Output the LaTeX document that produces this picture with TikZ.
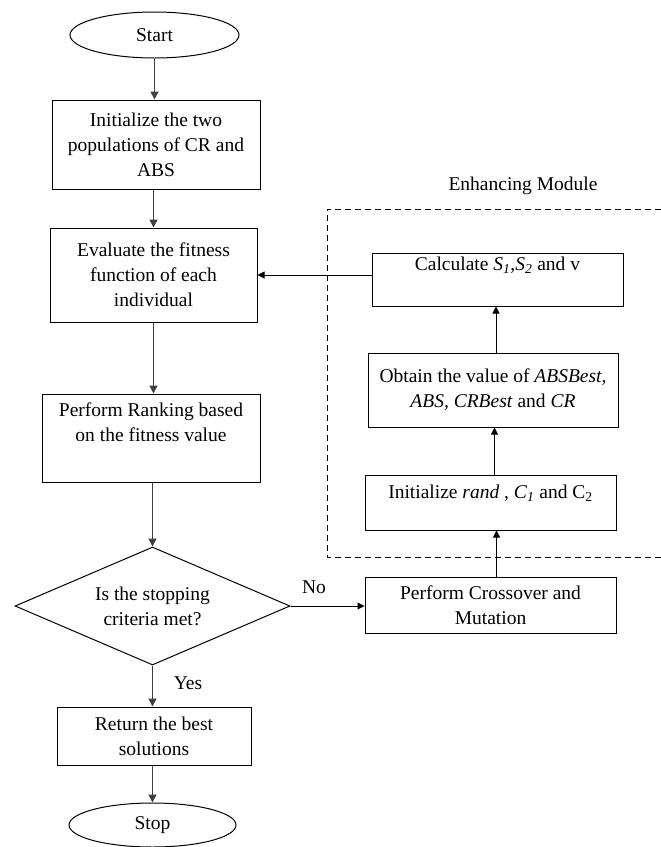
\documentclass[tikz,border=0pt]{standalone}
\usepackage{fontspec}
\setmainfont{Liberation Serif}
\usetikzlibrary{shapes.geometric,arrows.meta}
\begin{document}
\begin{tikzpicture}[x=1pt,y=-1pt,
  every node/.style={font=\fontsize{19.5}{25}\selectfont},
  box/.style={draw, line width=1pt, rectangle, align=center, inner sep=2pt},
  term/.style={draw, line width=1pt, ellipse, inner sep=0pt},
  dec/.style={draw, line width=1pt, diamond, shape aspect=2.33, align=center, inner sep=0pt},
  arr/.style={line width=1.5pt, draw=black!75, -{Triangle[length=8pt,width=8pt]}},
  arrb/.style={line width=1pt, draw=black, -{Triangle[length=7pt,width=7pt]}},
  lbl/.style={inner sep=0pt}]
\useasboundingbox (0,0) rectangle (661,847);
% main column
\node[term, minimum width=169pt, minimum height=46pt] (start) at (154.5,35) {Start};
\node[box, minimum width=208pt, minimum height=89pt] (init) at (156,144.5) {Initialize the two\\populations of CR and\\ABS};
\node[box, minimum width=207pt, minimum height=94pt] (eval) at (153.5,275) {Evaluate the fitness\\function of each\\individual};
\node[box, minimum width=218pt, minimum height=88pt] (rank) at (151,438) {Perform Ranking based\\on the fitness value\\\strut};
\node[dec, minimum width=275pt, minimum height=118pt] (dec) at (152.5,606) {Is the stopping\\criteria met?};
\node[box, minimum width=194pt, minimum height=58pt] (ret) at (154,736) {Return the best\\solutions};
\node[term, minimum width=167pt, minimum height=44pt] (stop) at (152.5,825) {Stop};
% right side
\node[box, minimum width=251pt, minimum height=56pt] (cross) at (490.5,605) {Perform Crossover and\\Mutation};
\node[box, minimum width=251pt, minimum height=55pt] (initr) at (490.5,502.5) {Initialize \textit{rand} , \textit{C}\textsubscript{\textit{1}} and C\textsubscript{2}\\[-10pt]\strut};
\node[box, minimum width=250pt, minimum height=74pt] (obt) at (493,390) {Obtain the value of \textit{ABSBest,}\\\textit{ABS, CRBest} and \textit{CR}};
\node[box, minimum width=251pt, minimum height=53pt] (calc) at (497.5,279.5) {Calculate \textit{S}\textsubscript{\textit{1}},\textit{S}\textsubscript{\textit{2}} and v\\\strut};
% enhancing module frame
\draw[line width=1pt, dash pattern=on 6pt off 4pt] (661,209) -- (327,209) -- (327,557) -- (661,557);
\node[lbl] (enh) at (523,186) {Enhancing Module};
% labels
\node[lbl] (no) at (314,587) {No};
\node[lbl] (yes) at (188,683) {Yes};
% connectors
\draw[arr] (start.south) -- (start.south |- init.north);
\draw[arr] (init.south -| eval.north) -- (eval.north);
\draw[arr] (eval.south) -- (eval.south |- rank.north);
\draw[arr] (rank.south -| dec.north) -- (dec.north);
\draw[arr] (dec.south) -- (dec.south |- ret.north);
\draw[arr] (ret.south -| stop.north) -- (stop.north);
\draw[arrb] (dec.east) -- (dec.east -| cross.west);
\draw[arrb] ([xshift=6pt]cross.north) -- ([xshift=6pt]cross.north |- initr.south);
\draw[arrb] ([xshift=4pt]initr.north) -- ([xshift=4pt]initr.north |- obt.south);
\draw[arrb] ([xshift=3pt]obt.north) -- ([xshift=3pt]obt.north |- calc.south);
\draw[arrb] (calc.west |- eval.east) -- (eval.east);
\end{tikzpicture}
\end{document}
